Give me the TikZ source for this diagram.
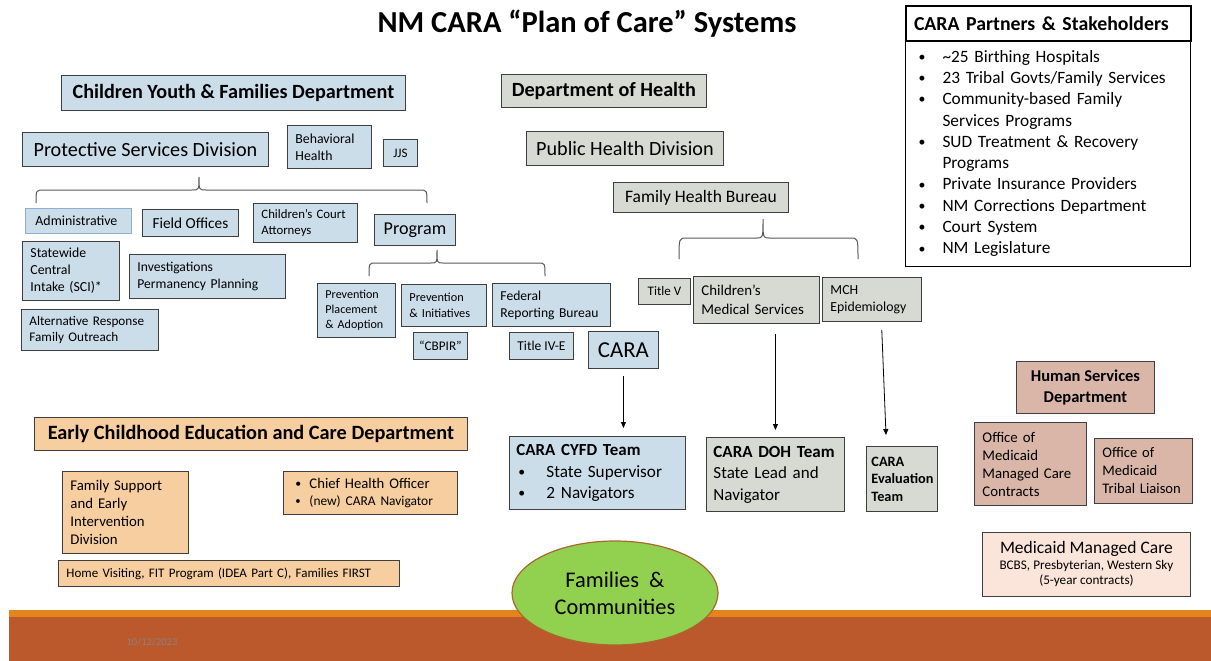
\documentclass[tikz,border=0pt]{standalone}
\usepackage{fontspec}
\setmainfont{Carlito}
\usetikzlibrary{arrows.meta,shapes.geometric}
\definecolor{edge}{HTML}{3F3F3F}
\definecolor{cyfdfill}{HTML}{CCDDEA}
\definecolor{dohfill}{HTML}{D6DAD2}
\definecolor{ecfill}{HTML}{F6CE9F}
\definecolor{hsdfill}{HTML}{D9B6A8}
\definecolor{mmcfill}{HTML}{FBE4DA}
\definecolor{adminedge}{HTML}{8FAFD0}
\definecolor{bandor}{HTML}{E4841C}
\definecolor{bandbr}{HTML}{BB582C}
\definecolor{dategray}{HTML}{858585}
\definecolor{famfill}{HTML}{92D050}
\definecolor{famedge}{HTML}{A8692B}
\definecolor{bracecol}{HTML}{595959}
\newcommand\fsz[2]{\fontsize{#1}{#2}\selectfont}
\newcommand\bul[1]{\makebox[#1][l]{\raisebox{0.05em}{\scalebox{0.8}{\textbullet}}}}
\begin{document}
\begin{tikzpicture}[x=1pt,y=-1pt,
  bx/.style={draw=edge, line width=0.9pt, anchor=north west, inner xsep=8pt, inner ysep=0pt, align=left},
  cbx/.style={draw=edge, line width=0.9pt, anchor=north west, inner sep=0pt, align=center},
  cyfd/.style={fill=cyfdfill},
  doh/.style={fill=dohfill},
  ecd/.style={fill=ecfill},
  hsd/.style={fill=hsdfill},
  mmc/.style={fill=mmcfill},
  arr/.style={draw=black, line width=0.8pt, -{Triangle[length=6pt,width=5pt]}},
  brc/.style={draw=bracecol, line width=1pt}
]
\fill[white] (0,0) rectangle (1211,661);
\useasboundingbox (0,0) rectangle (1211,661);

% bottom band
\fill[bandor] (9,610) rectangle (1211,617);
\fill[bandbr] (9,617) rectangle (1211,661);
\node[text=dategray, font=\fsz{10.5}{12}] (date) at (152,642) {10/12/2023};

% title
\node[font=\bfseries\fsz{30.5}{34}] (title) at (587,24) {NM CARA “Plan of Care” Systems};

% partners
\node[bx, draw=black, line width=1pt, text width=269pt, minimum height=226pt, font=\fsz{17.3}{21.3}] (plist) at (905,40)
 {\hspace*{5pt}\bul{24pt}\textasciitilde25 Birthing Hospitals\\
  \hspace*{5pt}\bul{24pt}23 Tribal Govts/Family Services\\
  \hspace*{5pt}\bul{24pt}Community-based Family\\
  \hspace*{29pt}Services Programs\\
  \hspace*{5pt}\bul{24pt}SUD Treatment \& Recovery\\
  \hspace*{29pt}Programs\\
  \hspace*{5pt}\bul{24pt}Private Insurance Providers\\
  \hspace*{5pt}\bul{24pt}NM Corrections Department\\
  \hspace*{5pt}\bul{24pt}Court System\\
  \hspace*{5pt}\bul{24pt}NM Legislature};
\node[bx, draw=black, line width=2pt, fill=white, text width=269pt, minimum height=35pt, font=\bfseries\fsz{19.8}{23}] (phead) at (905,5) {CARA Partners \& Stakeholders};

% CYFD
\node[cbx, cyfd, minimum width=344pt, minimum height=35pt, font=\bfseries\fsz{20.2}{24}] (cyfdh) at (61,75) {Children Youth \& Families Department};
\node[cbx, cyfd, minimum width=246pt, minimum height=34pt, font=\fsz{20.2}{24}] (psd) at (22,132) {Protective Services Division};
\node[bx, cyfd, text width=68pt, minimum height=43pt, font=\fsz{13.8}{17}] (bh) at (287,125) {Behavioral\\Health};
\node[cbx, cyfd, minimum width=34pt, minimum height=27pt, font=\fsz{13}{15}] (jjs) at (383,139) {JJS};

\draw[brc] (36,203) .. controls (36,190) .. (44,190) -- (192,190) .. controls (199,190) .. (199,177)
  .. controls (199,190) .. (206,190) -- (419,190) .. controls (427,190) .. (427,203);

\node[bx, cyfd, draw=adminedge, inner xsep=10pt, text width=86pt, minimum height=25pt, font=\fsz{13.9}{16}] (admin) at (25,208) {Administrative};
\node[cbx, cyfd, minimum width=96pt, minimum height=27pt, font=\fsz{15.3}{18}] (field) at (142,209) {Field Offices};
\node[bx, cyfd, text width=88pt, minimum height=39pt, font=\fsz{12.8}{16}] (cca) at (253,203) {Children’s Court\\Attorneys};
\node[cbx, cyfd, minimum width=81pt, minimum height=31pt, font=\fsz{18.1}{21}] (prog) at (374,214) {Program};
\node[bx, cyfd, text width=81pt, minimum height=59pt, font=\fsz{13.8}{17}] (sci) at (22,241) {Statewide\\Central\\Intake (SCI)*};
\node[bx, cyfd, text width=140pt, minimum height=44pt, font=\fsz{13.6}{17}] (inv) at (129,254) {Investigations\\Permanency Planning};
\node[bx, cyfd, text width=121pt, minimum height=41pt, font=\fsz{13.2}{16}] (alt) at (21,309) {Alternative Response\\Family Outreach};

\draw[brc] (369,276) .. controls (369,263) .. (376,263) -- (431,263) .. controls (437,263) .. (437,250)
  .. controls (437,263) .. (443,263) -- (538,263) .. controls (545,263) .. (545,276);

\node[bx, cyfd, text width=62pt, minimum height=54pt, font=\fsz{12.1}{15}] (ppa) at (317,283) {Prevention\\Placement\\\& Adoption};
\node[bx, cyfd, text width=69pt, minimum height=42pt, font=\fsz{12.3}{16}] (pi) at (401,284) {Prevention\\\& Initiatives};
\node[bx, cyfd, text width=102pt, minimum height=43pt, font=\fsz{13.6}{17}] (frb) at (492,283) {Federal\\Reporting Bureau};
\node[cbx, cyfd, minimum width=54pt, minimum height=27pt, font=\fsz{13.2}{15}] (cbpir) at (413,332) {“CBPIR”};
\node[cbx, cyfd, minimum width=64pt, minimum height=27pt, font=\fsz{13.5}{15}] (t4e) at (509,332) {Title IV-E};
\node[cbx, cyfd, minimum width=70pt, minimum height=37pt, font=\fsz{22.8}{26}] (cara) at (588,331) {CARA};

% DOH
\node[cbx, doh, minimum width=205pt, minimum height=33pt, font=\bfseries\fsz{20.2}{24}] (dohh) at (501,74) {Department of Health};
\node[cbx, doh, minimum width=197pt, minimum height=34pt, font=\fsz{20.2}{24}] (phd) at (526,131) {Public Health Division};
\node[cbx, doh, minimum width=175pt, minimum height=30pt, font=\fsz{17.5}{20}] (fhb) at (613,182) {Family Health Bureau};

\draw[brc] (679,259) .. controls (679,238) .. (687,238) -- (757,238) .. controls (763,238) .. (763,219)
  .. controls (763,238) .. (769,238) -- (850,238) .. controls (858,238) .. (858,259);

\node[cbx, doh, minimum width=52pt, minimum height=26pt, font=\fsz{13}{15}] (t5) at (638,278) {Title V};
\node[bx, doh, text width=110pt, minimum height=47pt, font=\fsz{14.9}{19}] (cms) at (693,276) {Children’s\\Medical Services};
\node[bx, doh, text width=83pt, minimum height=44pt, font=\fsz{13.8}{17}] (mch) at (822,277) {MCH\\Epidemiology};

% teams
\node[bx, cyfd, inner xsep=7pt, text width=162pt, minimum height=73pt, font=\fsz{17.2}{21.5}] (cyfdt) at (509,436)
 {{\bfseries\fsz{16.9}{21.5}CARA CYFD Team}\\\hspace*{2pt}\bul{28pt}State Supervisor\\\hspace*{2pt}\bul{28pt}2 Navigators};
\node[bx, doh, inner xsep=7pt, text width=124pt, minimum height=74pt, font=\fsz{17}{21.5}] (doht) at (706,437)
 {\textbf{CARA DOH Team}\\State Lead and\\Navigator};
\node[bx, doh, inner xsep=5pt, text width=61pt, minimum height=65pt, font=\bfseries\fsz{14.3}{17.5}] (evt) at (866,446)
 {CARA\\Evaluation\\Team};

\draw[arr, shorten <=7pt, shorten >=8pt] (cara.south) -- (cara.south |- cyfdt.north);
\draw[arr, shorten <=10pt, shorten >=7pt] (cms.south -| doht.north) -- (doht.north);
\draw[arr, shorten <=8pt, shorten >=11pt] ([xshift=9.5pt]mch.south) -- ([xshift=-15.5pt]evt.north);

% HSD
\node[cbx, hsd, minimum width=138pt, minimum height=52pt, font=\bfseries\fsz{16.5}{21.5}] (hsdh) at (1016,361) {Human Services\\Department};
\node[bx, hsd, text width=96pt, minimum height=83pt, font=\fsz{14.8}{18}] (ommc) at (974,422) {Office of\\Medicaid\\Managed Care\\Contracts};
\node[bx, hsd, text width=82pt, minimum height=65pt, font=\fsz{14.6}{18}] (omtl) at (1094,438) {Office of\\Medicaid\\Tribal Liaison};
\node[cbx, mmc, minimum width=208pt, minimum height=64pt, font=\fsz{13.2}{15.5}] (mmcare) at (982,532)
 {{\fsz{17.5}{18.5}Medicaid Managed Care}\\BCBS, Presbyterian, Western Sky\\(5-year contracts)};

% ECECD
\node[cbx, ecd, minimum width=433pt, minimum height=33pt, font=\bfseries\fsz{20.3}{24}] (ecdh) at (34,417) {Early Childhood Education and Care Department};
\node[bx, ecd, text width=110pt, minimum height=82pt, font=\fsz{14.8}{18.3}] (fseid) at (62,471) {Family Support\\and Early\\Intervention\\Division};
\node[bx, ecd, text width=158pt, minimum height=43pt, font=\fsz{14.7}{17}] (cho) at (283,471)
 {\hspace*{4pt}\bul{14pt}Chief Health Officer\\{\fsz{13.4}{17}\hspace*{4pt}\bul{14pt}(new) CARA Navigator}};
\node[bx, ecd, text width=325pt, minimum height=26pt, font=\fsz{13}{15}] (hv) at (58,560) {Home Visiting, FIT Program (IDEA Part C), Families FIRST};

% families
\node[ellipse, draw=famedge, line width=1.2pt, fill=famfill, minimum width=206pt, minimum height=104pt, inner sep=0pt, align=center, font=\fsz{22.4}{27}] (fam) at (615,593) {Families~~\&\\Communities};
\end{tikzpicture}
\end{document}
